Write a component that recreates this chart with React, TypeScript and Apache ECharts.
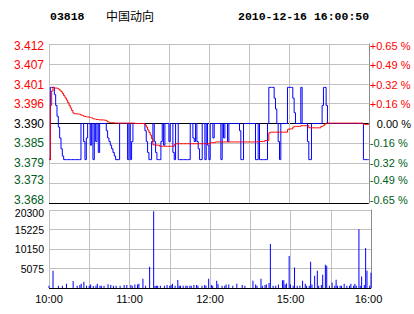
import React, { useEffect, useRef } from "react";
import * as echarts from "echarts";

const CODE = "03818";
const NAME = "中国动向";
const STAMP = "2010-12-16 16:00:50";

// tick labels, bottom to top
const PRICE_LABELS = ["3.368", "3.373", "3.379", "3.385", "3.390", "3.396", "3.401", "3.407", "3.412"];
const PCT_LABELS = ["-0.65 %", "-0.49 %", "-0.32 %", "-0.16 %", "0.00 %", "+0.16 %", "+0.32 %", "+0.49 %", "+0.65 %"];
const VOL_LABELS = ["", "5075", "10150", "15225", "20300"];

const PRICE_MIN = 3.368;
const PRICE_MAX = 3.412;
const PRICE_STEP = 0.0055;
const PCT_MIN = -0.65;
const PCT_MAX = 0.65;
const PCT_STEP = 0.1625;
const VOL_MAX = 20300;
const VOL_STEP = 5075;

// one value per trading minute (10:00-12:30, 14:30-16:00)
const PRICE = [
  3.38, 3.40, 3.40, 3.40, 3.398, 3.395, 3.392, 3.389, 3.386, 3.383,
  3.381, 3.38, 3.38, 3.38, 3.38, 3.38, 3.38, 3.38, 3.38, 3.38,
  3.38, 3.38, 3.38, 3.38, 3.39, 3.39, 3.385, 3.38, 3.386, 3.39,
  3.39, 3.384, 3.39, 3.38, 3.39, 3.385, 3.39, 3.382, 3.39, 3.39,
  3.39, 3.39, 3.39, 3.388, 3.386, 3.385, 3.384, 3.383, 3.382, 3.381,
  3.38, 3.38, 3.38, 3.39, 3.39, 3.39, 3.39, 3.39, 3.39, 3.38,
  3.39, 3.38, 3.385, 3.39, 3.39, 3.39, 3.39, 3.39, 3.39, 3.39,
  3.39, 3.39, 3.388, 3.385, 3.382, 3.38, 3.38, 3.385, 3.39, 3.385,
  3.382, 3.38, 3.38, 3.38, 3.385, 3.39, 3.384, 3.39, 3.39, 3.39,
  3.385, 3.39, 3.39, 3.382, 3.38, 3.39, 3.39, 3.38, 3.38, 3.38,
  3.38, 3.38, 3.38, 3.38, 3.38, 3.38, 3.39, 3.39, 3.386, 3.385,
  3.39, 3.385, 3.383, 3.38, 3.38, 3.39, 3.39, 3.38, 3.39, 3.384,
  3.38, 3.39, 3.39, 3.386, 3.39, 3.39, 3.39, 3.39, 3.39, 3.38,
  3.39, 3.386, 3.39, 3.39, 3.385, 3.39, 3.39, 3.39, 3.39, 3.39,
  3.39, 3.39, 3.39, 3.388, 3.38, 3.38, 3.39, 3.39, 3.39, 3.39,
  3.39, 3.39, 3.39, 3.39, 3.39, 3.38, 3.38, 3.39, 3.38, 3.38,
  3.38, 3.38, 3.38, 3.38, 3.39, 3.40, 3.40, 3.40, 3.40, 3.397,
  3.394, 3.39, 3.385, 3.38, 3.39, 3.39, 3.39, 3.39, 3.39, 3.40,
  3.40, 3.40, 3.40, 3.397, 3.393, 3.39, 3.39, 3.39, 3.39, 3.40,
  3.39, 3.39, 3.39, 3.39, 3.385, 3.38, 3.38, 3.39, 3.39, 3.39,
  3.39, 3.39, 3.39, 3.39, 3.39, 3.395, 3.40, 3.40, 3.395, 3.39,
  3.39, 3.39, 3.39, 3.39, 3.39, 3.39, 3.39, 3.39, 3.39, 3.39,
  3.39, 3.39, 3.39, 3.39, 3.39, 3.39, 3.39, 3.39, 3.39, 3.39,
  3.39, 3.39, 3.39, 3.39, 3.39, 3.39, 3.38, 3.38, 3.38, 3.38,
  3.38,
];

const AVERAGE = [
  3.380, 3.395, 3.399, 3.400, 3.3998, 3.3998, 3.3997, 3.3995, 3.3992, 3.3988,
  3.3983, 3.3977, 3.3971, 3.3965, 3.3958, 3.3950, 3.3943, 3.3936, 3.3929, 3.3927,
  3.3927, 3.3926, 3.3926, 3.3925, 3.3923, 3.3922, 3.3920, 3.3919, 3.3918, 3.3918,
  3.3917, 3.3916, 3.3915, 3.3913, 3.3912, 3.3911, 3.3911, 3.3910, 3.3910, 3.3910,
  3.3910, 3.3909, 3.3909, 3.3907, 3.3904, 3.3903, 3.3902, 3.3902, 3.3902, 3.3901,
  3.3901, 3.3901, 3.3901, 3.3901, 3.3901, 3.3901, 3.3901, 3.3901, 3.3901, 3.3901,
  3.3901, 3.3901, 3.3901, 3.3901, 3.3900, 3.3900, 3.3900, 3.3900, 3.3900, 3.3900,
  3.3900, 3.3899, 3.3896, 3.3890, 3.3882, 3.3875, 3.3868, 3.3858, 3.3841, 3.3840,
  3.3840, 3.3840, 3.3840, 3.3837, 3.3837, 3.3837, 3.3837, 3.3837, 3.3837, 3.3837,
  3.3837, 3.3837, 3.3837, 3.3837, 3.3842, 3.3844, 3.3844, 3.3844, 3.3844, 3.3844,
  3.3844, 3.3844, 3.3844, 3.3844, 3.3844, 3.3844, 3.3844, 3.3844, 3.3844, 3.3844,
  3.3844, 3.3844, 3.3844, 3.3844, 3.3844, 3.3844, 3.3844, 3.3844, 3.3844, 3.3844,
  3.3844, 3.3847, 3.3847, 3.3847, 3.3847, 3.3849, 3.3849, 3.3849, 3.3849, 3.3849,
  3.3849, 3.3849, 3.3849, 3.3849, 3.3849, 3.3849, 3.3849, 3.3849, 3.3849, 3.3849,
  3.3849, 3.3849, 3.3849, 3.3849, 3.3849, 3.3849, 3.3849, 3.3849, 3.3849, 3.3849,
  3.3849, 3.3849, 3.3849, 3.3849, 3.3849, 3.3849, 3.3850, 3.3850, 3.3850, 3.3850,
  3.3850, 3.3850, 3.3853, 3.3853, 3.3853, 3.3874, 3.3876, 3.3876, 3.3876, 3.3876,
  3.3876, 3.3876, 3.3876, 3.3876, 3.3876, 3.3876, 3.3876, 3.3876, 3.3876, 3.3883,
  3.3885, 3.3885, 3.3885, 3.3890, 3.3892, 3.3892, 3.3892, 3.3892, 3.3892, 3.3894,
  3.3894, 3.3894, 3.3894, 3.3894, 3.3894, 3.3888, 3.3888, 3.3888, 3.3888, 3.3888,
  3.3888, 3.3888, 3.3888, 3.3888, 3.3892, 3.3893, 3.3895, 3.3899, 3.3901, 3.3901,
  3.3901, 3.3901, 3.3901, 3.3901, 3.3901, 3.3901, 3.3901, 3.3901, 3.3901, 3.3901,
  3.3901, 3.3901, 3.3901, 3.3901, 3.3901, 3.3901, 3.3901, 3.3901, 3.3901, 3.3901,
  3.3901, 3.3901, 3.3901, 3.3901, 3.3901, 3.3901, 3.3898, 3.3897, 3.3897, 3.3897,
  3.3897,
];

// [minute index, shares]
const VOLUME = [
  [0, 600], [3, 4470], [7, 600], [10, 600], [13, 1100], [18, 1800], [21, 600], [23, 800], [24, 1100], [26, 1600],
  [28, 600], [30, 600], [31, 900], [33, 500], [35, 600], [36, 1100], [38, 600], [39, 600], [41, 600], [44, 1000],
  [46, 800], [48, 600], [50, 600], [53, 600], [56, 800], [58, 800], [61, 800], [62, 600], [64, 900], [66, 900],
  [67, 1100], [70, 2400], [72, 600], [75, 5500], [78, 19950], [79, 500], [80, 600], [81, 600], [83, 600], [86, 600],
  [88, 800], [90, 600], [91, 800], [92, 1100], [94, 600], [96, 2060], [97, 600], [98, 600], [100, 600], [102, 600],
  [103, 600], [105, 600], [106, 600], [108, 800], [110, 800], [111, 600], [114, 600], [116, 800], [117, 600], [119, 2400],
  [121, 800], [122, 600], [125, 1900], [126, 1000], [129, 600], [131, 600], [132, 900], [134, 900], [137, 600], [140, 1100],
  [144, 800], [146, 600], [152, 1900], [154, 900], [155, 600], [158, 2400], [159, 600], [161, 800], [162, 900], [164, 1300],
  [165, 11450], [167, 600], [169, 600], [171, 900], [174, 2000], [175, 2000], [176, 900], [177, 1200], [179, 8350], [180, 900],
  [182, 600], [183, 5340], [185, 600], [187, 600], [189, 1900], [191, 1100], [192, 600], [194, 600], [195, 6800], [196, 900],
  [198, 3180], [200, 4470], [201, 600], [203, 800], [204, 3440], [206, 6020], [207, 5770], [209, 600], [211, 1400], [213, 600],
  [214, 2150], [215, 600], [217, 600], [218, 600], [220, 1100], [222, 600], [224, 600], [225, 1100], [227, 600], [228, 1100],
  [229, 600], [231, 15300], [232, 600], [233, 3000], [235, 800], [236, 10400], [237, 4470], [239, 600], [240, 3960],
];

// minute categories: 10:00..12:30 then 14:30..16:00 (12:30/14:30 share one slot)
function minuteLabel(i: number): string {
  const t = i <= 150 ? 600 + i : 870 + (i - 150);
  const h = Math.floor(t / 60);
  const m = t % 60;
  return `${h}:${m < 10 ? "0" + m : m}`;
}
const MINUTES = PRICE.map((_, i) => minuteLabel(i));

const GRID = "#c0c0c0";
const EDGE = "#8c8c8c";
const UP = "#ff0000";
const DOWN = "#006020";
const SANS = '"Liberation Sans", Arial, sans-serif';
const MONO = '"Liberation Mono", "DejaVu Sans Mono", monospace';

// vertical nudge of a label (px, positive = down) via asymmetric padding
function nudge(dy: number, left = 0) {
  return dy >= 0 ? [2 * dy, 0, 0, left] : [0, 0, -2 * dy, left];
}
// nudges per tick index (bottom to top), mimicking the reference placement
const PRICE_NUDGE = [-3, -3, 0, 0, 0, 0, 1, 1, 2];

export default function App() {
  const ref = useRef<HTMLDivElement>(null);

  useEffect(() => {
    if (!ref.current) return;
    const chart = echarts.init(ref.current, undefined, { renderer: "svg" });
    const priceColors = PRICE_LABELS.map((_, i) => (i === 0 || i === 4 ? "#000000" : GRID));
    const volColors = VOL_LABELS.map((_, i) => (i === 0 ? "#000000" : GRID));

    const colorOf = (i: number) => (i > 4 ? UP : i < 4 ? DOWN : "#000000");
    const leftRich: Record<string, any> = {};
    const rightRich: Record<string, any> = {};
    PRICE_LABELS.forEach((_, i) => {
      const c = colorOf(i);
      leftRich[`p${i}`] = { color: c, fontFamily: SANS, fontSize: 12, lineHeight: 12, padding: nudge(PRICE_NUDGE[i]) };
      rightRich[`q${i}`] = {
        color: c,
        fontFamily: SANS,
        fontSize: 11,
        lineHeight: 12,
        padding: nudge(PRICE_NUDGE[i], i === 4 ? 7 : 0),
      };
    });

    chart.setOption({
      animation: false,
      backgroundColor: "#ffffff",
      graphic: [
        { type: "text", left: 50, top: 10, style: { text: CODE, font: `bold 11.5px ${MONO}`, fill: "#000" } },
        { type: "text", left: 106, top: 9, style: { text: NAME, font: `12px "Noto Sans CJK SC"`, fill: "#000" } },
        { type: "text", left: 238, top: 10, style: { text: STAMP, font: `bold 11.5px ${MONO}`, fill: "#000" } },
      ],
      grid: [
        { left: 49, right: 43, top: 44, height: 159 },
        { left: 49, right: 43, top: 210, height: 78 },
      ],
      xAxis: [
        {
          type: "category",
          gridIndex: 0,
          data: MINUTES,
          boundaryGap: false,
          axisLine: { show: false },
          axisTick: { show: false },
          axisLabel: { show: false },
          splitLine: { show: true, interval: (i: number) => i % 30 === 0, lineStyle: { color: GRID, width: 1 } },
        },
        {
          type: "category",
          gridIndex: 1,
          data: MINUTES,
          boundaryGap: false,
          axisLine: { show: false },
          axisTick: { show: false },
          axisLabel: {
            interval: (i: number) => i % 60 === 0,
            color: "#000",
            fontFamily: SANS,
            fontSize: 11,
            margin: 5,
            formatter: (v: string, i: number) => (i === 240 ? `{last|${v}}` : v),
            rich: { last: { color: "#000", fontFamily: SANS, fontSize: 11, padding: [0, 5, 0, 0] } },
          },
          splitLine: { show: true, interval: (i: number) => i % 30 === 0, lineStyle: { color: GRID, width: 1 } },
        },
      ],
      yAxis: [
        {
          type: "value",
          gridIndex: 0,
          min: PRICE_MIN,
          max: PRICE_MAX,
          interval: PRICE_STEP,
          axisLine: { show: false },
          axisTick: { show: false },
          splitLine: { show: true, lineStyle: { color: priceColors, width: 1 } },
          axisLabel: {
            margin: 5,
            formatter: (v: number) => {
              const i = Math.round((v - PRICE_MIN) / PRICE_STEP);
              return `{p${i}|${PRICE_LABELS[i] ?? ""}}`;
            },
            rich: leftRich,
          },
        },
        {
          type: "value",
          gridIndex: 0,
          position: "right",
          min: PCT_MIN,
          max: PCT_MAX,
          interval: PCT_STEP,
          axisLine: { show: true, lineStyle: { color: EDGE, width: 1 } },
          axisTick: { show: false },
          splitLine: { show: false },
          axisLabel: {
            margin: 1,
            formatter: (v: number) => {
              const i = Math.round((v - PCT_MIN) / PCT_STEP);
              return `{q${i}|${PCT_LABELS[i] ?? ""}}`;
            },
            rich: rightRich,
          },
        },
        {
          type: "value",
          gridIndex: 1,
          min: 0,
          max: VOL_MAX,
          interval: VOL_STEP,
          axisLine: { show: false },
          axisTick: { show: false },
          splitLine: { show: true, lineStyle: { color: volColors, width: 1 } },
          axisLabel: {
            margin: 5,
            formatter: (v: number) => {
              const i = Math.round(v / VOL_STEP);
              const s = VOL_LABELS[i] ?? "";
              return s ? `{${i === 4 ? "top" : "n"}|${s}}` : "";
            },
            rich: {
              n: { color: "#000", fontFamily: SANS, fontSize: 10.5, lineHeight: 12 },
              top: { color: "#000", fontFamily: SANS, fontSize: 10.5, lineHeight: 12, padding: [5, 0, 0, 0] },
            },
          },
        },
        {
          type: "value",
          gridIndex: 1,
          position: "right",
          min: 0,
          max: VOL_MAX,
          axisLine: { show: true, lineStyle: { color: EDGE, width: 1 } },
          axisTick: { show: false },
          axisLabel: { show: false },
          splitLine: { show: false },
        },
      ],
      series: [
        {
          name: "price",
          type: "line",
          xAxisIndex: 0,
          yAxisIndex: 0,
          data: PRICE,
          step: "end",
          symbol: "none",
          z: 2,
          lineStyle: { color: "#0000ff", width: 1 },
        },
        {
          name: "average",
          type: "line",
          xAxisIndex: 0,
          yAxisIndex: 0,
          data: AVERAGE,
          step: "end",
          symbol: "none",
          z: 3,
          lineStyle: { color: "#ff0000", width: 1 },
        },
        {
          name: "volume",
          type: "bar",
          xAxisIndex: 1,
          yAxisIndex: 2,
          data: VOLUME,
          barWidth: 1,
          itemStyle: { color: "#0000ff" },
        },
      ],
    });
    return () => chart.dispose();
  }, []);

  return (
    <div
      ref={ref}
      style={{ position: "fixed", left: 0, top: 0, width: 414, height: 314, background: "#fff" }}
    />
  );
}
